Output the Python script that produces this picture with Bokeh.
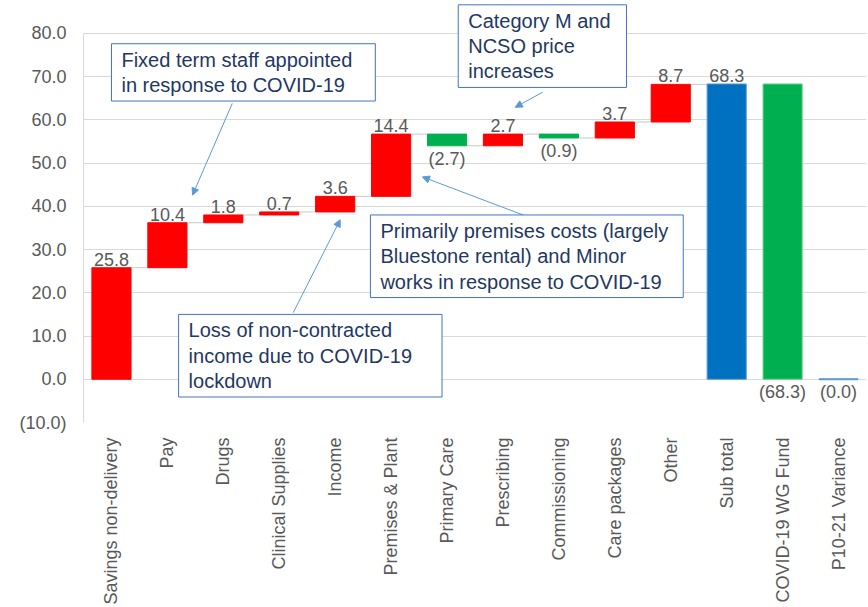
from bokeh.plotting import figure
from bokeh.models import (ColumnDataSource, FixedTicker, CustomJSTickFormatter, Label,
                          Arrow, NormalHead, Range1d, LabelSet)
from bokeh.embed import file_html
from bokeh.resources import INLINE
from bokeh.core.properties import value

# ---------------- data ----------------
categories = ["Savings non-delivery", "Pay", "Drugs", "Clinical Supplies", "Income",
              "Premises & Plant", "Primary Care", "Prescribing", "Commissioning",
              "Care packages", "Other", "Sub total", "COVID-19 WG Fund", "P10-21 Variance"]
step_values = [25.8, 10.4, 1.8, 0.7, 3.6, 14.4, -2.7, 2.7, -0.9, 3.7, 8.7]
subtotal_value = 68.3
fund_value = -68.3
variance_value = -0.04
y_ticks = [-10, 0, 10, 20, 30, 40, 50, 60, 70, 80]

notes = [
    "Fixed term staff appointed\nin response to COVID-19",
    "Category M and\nNCSO price\nincreases",
    "Primarily premises costs (largely\nBluestone rental) and Minor\nworks in response to COVID-19",
    "Loss of non-contracted\nincome due to COVID-19\nlockdown",
]
# anchor (x index, y value) of each note box's top-left corner
note_x = [0.0, 6.20, 4.63, 1.20]
note_y = [77.6, 86.6, 38.0, 15.0]
note_pad_right = [23, 16, 15, 30]
# arrows: start (x, y) -> end (x, y)
arrow_x0 = [2.16, 7.71, 7.44, 3.25]
arrow_y0 = [63.8, 66.4, 37.6, 15.4]
arrow_x1 = [1.45, 7.22, 5.56, 4.09]
arrow_y1 = [42.6, 62.9, 46.8, 36.9]

RED, GREEN, BLUE = "#ff0000", "#00b050", "#0070c0"

# ---------------- build waterfall ----------------
bottoms, tops, colors, lines, vals = [], [], [], [], []
ends = []
cum = 0.0
for v in step_values:
    new = cum + v
    bottoms.append(min(cum, new)); tops.append(max(cum, new))
    colors.append(RED if v > 0 else GREEN)
    lines.append(RED if v > 0 else GREEN)
    vals.append(v)
    ends.append(new)
    cum = new
bottoms.append(0); tops.append(subtotal_value); colors.append(BLUE); lines.append("#5b9bd5"); vals.append(subtotal_value)
bottoms.append(0); tops.append(abs(fund_value)); colors.append(GREEN); lines.append("#70d090"); vals.append(fund_value)
bottoms.append(min(0, variance_value)); tops.append(max(0, variance_value)); colors.append("#5b9bd5"); lines.append("#5b9bd5"); vals.append(variance_value)

xs = list(range(len(categories)))
src = ColumnDataSource(dict(x=xs, bottom=bottoms, top=tops, color=colors, line=lines))

def fmt(v):
    return f"({abs(v):.1f})" if v < 0 else f"{v:.1f}"

pos_idx = [i for i, v in enumerate(vals) if v >= 0]
neg_idx = [i for i, v in enumerate(vals) if v < 0]
pos_src = ColumnDataSource(dict(x=[xs[i] for i in pos_idx], y=[tops[i] for i in pos_idx],
                                t=[fmt(vals[i]) for i in pos_idx]))
neg_src = ColumnDataSource(dict(x=[xs[i] for i in neg_idx], y=[bottoms[i] for i in neg_idx],
                                t=[fmt(vals[i]) for i in neg_idx]))

# ---------------- figure ----------------
# frame extends above the 80 gridline so the top note box is not clipped
p = figure(width=868, height=607, output_backend="svg", toolbar_location=None,
           x_range=Range1d(-0.5, len(categories) - 0.5), y_range=Range1d(-10, 87.6),
           min_border_left=83, min_border_right=2, min_border_top=0, min_border_bottom=184)
p.background_fill_color = "white"
p.outline_line_color = None

# connector lines between consecutive bars
p.segment(x0=[x + 0.35 for x in xs[:len(ends)]], x1=[x + 0.65 for x in xs[:len(ends)]],
          y0=ends, y1=ends, line_color="#c8c8c8", line_width=1)

p.vbar(x="x", bottom="bottom", top="top", width=0.7, fill_color="color", line_color="line",
       line_width=1, source=src)
# variance as thin line
p.segment(x0=[xs[-1] - 0.35], x1=[xs[-1] + 0.35], y0=[0], y1=[0], line_color="#5b9bd5", line_width=2)

FONT = "Liberation Sans"
GREY = "#595959"
p.add_layout(LabelSet(x="x", y="y", text="t", source=pos_src, text_align="center",
                      text_baseline="bottom", y_offset=2, text_font=value(FONT),
                      text_font_size="18px", text_color=GREY))
p.add_layout(LabelSet(x="x", y="y", text="t", source=neg_src, text_align="center",
                      text_baseline="top", y_offset=-3, text_font=value(FONT),
                      text_font_size="18px", text_color=GREY))

# axes
p.yaxis.ticker = FixedTicker(ticks=y_ticks)
p.yaxis.bounds = (-10, 80)
p.yaxis.formatter = CustomJSTickFormatter(code="""
    return tick < 0 ? "(" + Math.abs(tick).toFixed(1) + ")" : tick.toFixed(1);
""")
p.xaxis.ticker = FixedTicker(ticks=xs)
p.xaxis.major_label_overrides = {i: c for i, c in enumerate(categories)}
p.xaxis.major_label_orientation = 1.5707963267948966
for ax in (p.xaxis, p.yaxis):
    ax.major_tick_line_color = None
    ax.minor_tick_line_color = None
    ax.major_label_text_font = FONT
    ax.major_label_text_font_size = "18px"
    ax.major_label_text_color = GREY
p.xaxis.axis_line_color = None
p.yaxis.axis_line_color = "#d9d9d9"
p.xaxis.major_label_standoff = 9
p.yaxis.major_label_standoff = 11
p.xgrid.grid_line_color = None
p.ygrid.ticker = FixedTicker(ticks=y_ticks)
p.ygrid.grid_line_color = "#d9d9d9"

# arrows
for i in range(len(arrow_x0)):
    p.add_layout(Arrow(end=NormalHead(size=7, line_color="#5b9bd5", fill_color="#5b9bd5"),
                       x_start=arrow_x0[i], y_start=arrow_y0[i], x_end=arrow_x1[i], y_end=arrow_y1[i],
                       line_color="#5b9bd5", line_width=1))

# notes
for i, t in enumerate(notes):
    p.add_layout(Label(x=note_x[i], y=note_y[i], text=t, text_align="left", text_baseline="top",
                       text_font=FONT, text_font_size="20px", text_color="#1f3864",
                       text_line_height=1.15,
                       background_fill_color="white", border_line_color="#4472c4",
                       border_line_width=1,
                       padding=dict(left=10, right=note_pad_right[i], top=5, bottom=5)))

open("out.html", "w").write(file_html(p, INLINE))
